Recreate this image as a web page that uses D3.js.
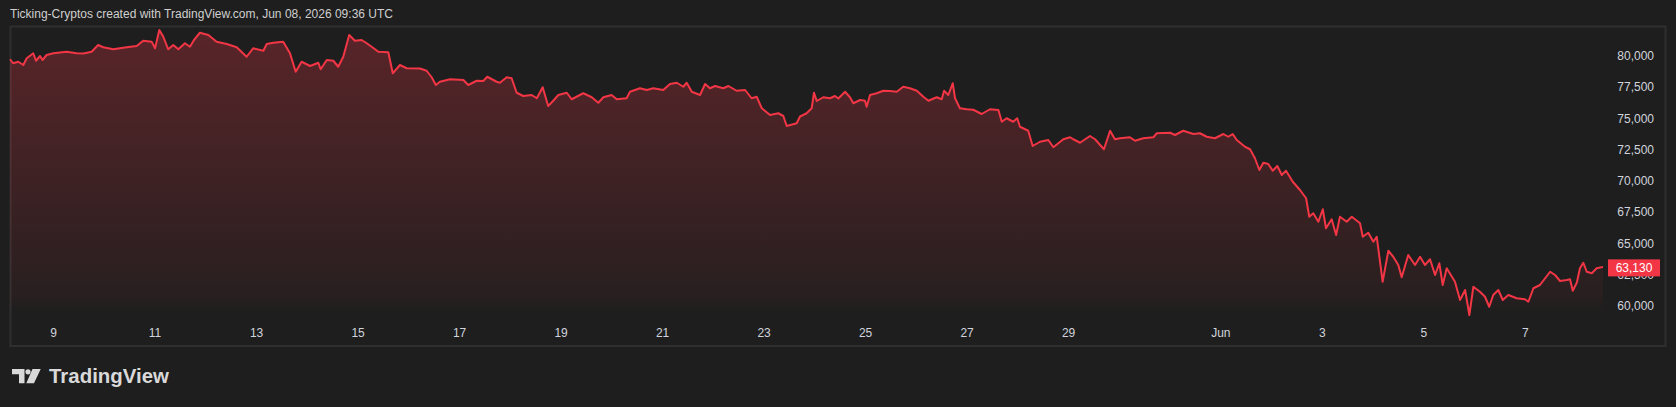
<!DOCTYPE html>
<html>
<head>
<meta charset="utf-8">
<script src="https://cdn.jsdelivr.net/npm/d3@7"></script>
<style>
  html, body { margin: 0; padding: 0; background: #1e1e1e; overflow: hidden; }
</style>
</head>
<body>
<div id="chart"></div>
<script>
const width = 1676, height = 407;

// hours after May 9 00:00 (chart time) and BTC price
const hours = [
  -20.6, -19.1, -16.7, -14.3, -12.7, -9.6, -8.3, -6.4, -5.2, -3.3,
  -0.1, 6.2, 10.9, 14.1, 18.0, 21.1, 23.5, 28.2, 34.6, 39.3,
  42.4, 46.4, 48.0, 50.0, 51.9, 54.2, 56.6, 59.0, 62.1, 64.5,
  66.4, 69.2, 73.2, 77.1, 81.9, 86.6, 91.3, 94.4, 99.2, 100.8,
  103.9, 108.6, 111.8, 114.5, 117.3, 121.3, 125.2, 126.3, 129.2, 132.3,
  134.6, 137.0, 139.8, 142.5, 145.7, 148.1, 150.4, 153.6, 158.3, 160.4,
  163.8, 167.0, 173.3, 176.4, 178.8, 180.8, 182.7, 187.5, 193.8, 196.1,
  200.1, 203.2, 205.1, 209.5, 211.1, 214.3, 216.6, 219.0, 222.1, 226.1,
  228.5, 231.3, 233.9, 236.3, 238.7, 242.7, 245.0, 250.5, 254.5, 257.6,
  260.0, 263.9, 266.3, 271.0, 272.6, 277.3, 280.5, 283.6, 288.3, 291.5,
  294.7, 297.8, 299.4, 301.8, 305.7, 308.1, 310.4, 312.8, 316.7, 319.1,
  323.0, 327.0, 330.1, 332.5, 334.9, 338.8, 342.7, 345.1, 346.7, 351.4,
  353.0, 356.1, 358.5, 359.6, 360.9, 364.0, 367.2, 369.5, 371.1, 374.3,
  376.6, 378.2, 381.4, 383.7, 384.5, 386.1, 389.2, 392.4, 395.5, 398.7,
  401.8, 405.0, 408.2, 411.3, 413.7, 417.6, 420.0, 421.1, 423.1, 425.2,
  426.3, 428.6, 431.8, 434.9, 438.9, 442.8, 446.8, 448.4, 450.7, 453.8,
  455.7, 457.0, 460.9, 463.0, 466.5, 470.4, 472.8, 477.5, 480.7, 482.2,
  485.4, 490.1, 492.5, 496.7, 499.6, 501.9, 504.3, 509.0, 511.4, 515.3,
  520.1, 521.7, 528.0, 530.3, 534.2, 539.0, 542.1, 545.3, 549.2, 553.2,
  555.5, 557.6, 559.5, 563.4, 565.8, 568.1, 570.2, 572.1, 574.4, 576.5,
  578.7, 580.8, 582.8, 586.0, 589.4, 592.3, 593.8, 595.7, 598.1, 600.2,
  601.7, 604.4, 606.5, 608.3, 611.5, 613.9, 617.8, 619.1, 621.7, 624.1,
  625.7, 628.5, 631.2, 633.5, 635.9, 637.5, 640.6, 643.8, 646.2, 648.5,
  650.9, 653.3, 655.3, 656.9, 658.8, 662.7, 665.1, 667.5, 669.5, 671.4,
  674.5, 676.9, 678.9, 680.8, 683.2, 685.3, 687.9, 691.9, 695.8, 697.4,
  699.8, 702.9, 707.7, 710.0, 712.4, 715.6, 717.1, 718.4, 720.3, 721.8,
  723.4, 725.0, 727.4, 729.7, 732.7
];
const prices = [
  79740, 79420, 79540, 79280, 79820, 80220, 79620, 80000, 79680, 80080,
  80220, 80340, 80220, 80200, 80340, 80880, 80700, 80540, 80700, 80800,
  81220, 81140, 80620, 82080, 81540, 80540, 80880, 80540, 81020, 80740,
  81280, 81860, 81680, 81140, 80960, 80700, 79940, 80620, 80420, 80960,
  81060, 81140, 80220, 78740, 79540, 79200, 79460, 78940, 79680, 79620,
  79140, 79940, 81680, 81220, 81280, 81020, 80740, 80340, 80300, 78620,
  79280, 79020, 79000, 78820, 78300, 77680, 77940, 78140, 78080, 77680,
  78020, 78000, 78340, 77940, 77860, 78300, 78220, 77060, 76800, 76880,
  76620, 77500, 76000, 76420, 76880, 77060, 76540, 77020, 76700, 76260,
  76700, 76880, 76540, 76620, 77140, 77420, 77280, 77420, 77280, 77760,
  77860, 77540, 77860, 77140, 76880, 77760, 77420, 77600, 77420, 77600,
  77220, 77280, 76620, 76740, 75820, 75280, 75420, 75200, 74400, 74620,
  75160, 75420, 75820, 77060, 76400, 76700, 76620, 76800, 76600, 77140,
  76700, 76220, 76480, 76420, 75940, 76880, 77020, 77220, 77200, 77140,
  77540, 77420, 77220, 76740, 76420, 76700, 76540, 77220, 76880, 77820,
  76620, 75820, 75740, 75700, 75360, 75740, 75680, 74740, 75020, 74740,
  75020, 74340, 74020, 72800, 73140, 73280, 72700, 73340, 73500, 73340,
  73060, 73600, 73340, 72540, 74020, 73340, 73420, 73500, 73220, 73420,
  73500, 73820, 73860, 73680, 74020, 73760, 73820, 73540, 73420, 73760,
  73540, 73760, 73280, 72740, 72540, 71820, 70880, 71460, 71360, 70820,
  71200, 70480, 70820, 69940, 69280, 68620, 67140, 67420, 66740, 67740,
  66220, 66940, 65680, 67140, 66740, 67140, 66620, 65540, 65860, 65140,
  65540, 61940, 64420, 63940, 63280, 62300, 64080, 63280, 63940, 63280,
  63740, 62480, 63420, 61680, 63020, 61940, 60480, 61280, 59280, 61540,
  61140, 60740, 59940, 60880, 61280, 60480, 60880, 60620, 60540, 60340,
  61420, 61680, 62740, 62480, 62000, 62080, 62140, 61220, 61860, 63020,
  63460, 62740, 62620, 63020, 63130
];

const priceTicks = [60000, 62500, 65000, 67500, 70000, 72500, 75000, 77500, 80000];
const dayTicks = ["2026-05-09", "2026-05-11", "2026-05-13", "2026-05-15", "2026-05-17",
  "2026-05-19", "2026-05-21", "2026-05-23", "2026-05-25", "2026-05-27", "2026-05-29",
  "2026-06-01", "2026-06-03", "2026-06-05", "2026-06-07"];
const dayLabels = ["9", "11", "13", "15", "17", "19", "21", "23", "25", "27", "29", "Jun", "3", "5", "7"];
const titleText = "Ticking-Cryptos created with TradingView.com, Jun 08, 2026 09:36 UTC";

const start = Date.UTC(2026, 4, 9);
const data = hours.map((h, i) => ({ date: new Date(start + h * 3600e3), price: prices[i] }));
const lastPrice = prices[prices.length - 1];

const paneBottom = 312;
const red = "#f23645";
const textColor = "#d1d4dc";

const svg = d3.select("#chart").append("svg")
    .attr("width", width)
    .attr("height", height)
    .style("font-family", "'Liberation Sans', Arial, sans-serif");

svg.append("rect")
    .attr("width", width)
    .attr("height", height)
    .attr("fill", "#1e1e1e");

const x = d3.scaleUtc()
    .domain(d3.extent(data, d => d.date))
    .range([10, 1603]);

const y = d3.scaleLinear()
    .domain([60000, 80000])
    .range([306, 56]);

// title
svg.append("text")
    .attr("x", 10)
    .attr("y", 18)
    .attr("fill", "#cfcfcf")
    .attr("font-size", 12)
    .attr("textLength", 383)
    .attr("lengthAdjust", "spacingAndGlyphs")
    .text(titleText);

// frame
svg.append("rect")
    .attr("x", 10.5)
    .attr("y", 26.5)
    .attr("width", 1655)
    .attr("height", 319.5)
    .attr("fill", "none")
    .attr("stroke", "#2f2f2f")
    .attr("stroke-width", 2);

// area gradient fades out towards the pane bottom
const gTop = y(d3.max(prices));
const grad = svg.append("defs").append("linearGradient")
    .attr("id", "areaGrad")
    .attr("gradientUnits", "userSpaceOnUse")
    .attr("x1", 0).attr("x2", 0)
    .attr("y1", gTop).attr("y2", paneBottom);
grad.append("stop").attr("offset", 0).attr("stop-color", red).attr("stop-opacity", 0.28);
grad.append("stop").attr("offset", (295 - gTop) / (paneBottom - gTop)).attr("stop-color", red).attr("stop-opacity", 0.05);
grad.append("stop").attr("offset", 1).attr("stop-color", red).attr("stop-opacity", 0);

const area = d3.area()
    .x(d => x(d.date))
    .y0(paneBottom)
    .y1(d => y(d.price));

const line = d3.line()
    .x(d => x(d.date))
    .y(d => y(d.price));

svg.append("path")
    .datum(data)
    .attr("d", area)
    .attr("fill", "url(#areaGrad)");

svg.append("path")
    .datum(data)
    .attr("d", line)
    .attr("fill", "none")
    .attr("stroke", red)
    .attr("stroke-width", 2)
    .attr("stroke-linejoin", "round");

// price scale
svg.append("g")
    .selectAll("text")
    .data(priceTicks)
    .join("text")
    .attr("x", 1654)
    .attr("y", d => y(d))
    .attr("dy", "0.35em")
    .attr("text-anchor", "end")
    .attr("fill", textColor)
    .attr("font-size", 12)
    .text(d => d3.format(",")(d));

// last price label (sits over the 62,500 tick, as in TradingView)
const lastY = y(lastPrice) + 1;
svg.append("rect")
    .attr("x", 1608)
    .attr("y", lastY - 8.5)
    .attr("width", 52)
    .attr("height", 17)
    .attr("fill", red);
svg.append("text")
    .attr("x", 1634)
    .attr("y", lastY)
    .attr("dy", "0.35em")
    .attr("text-anchor", "middle")
    .attr("fill", "#ffffff")
    .attr("font-size", 12)
    .text(d3.format(",")(lastPrice));

// time scale
const parseDay = d3.utcParse("%Y-%m-%d");
svg.append("g")
    .selectAll("text")
    .data(dayTicks)
    .join("text")
    .attr("x", d => x(parseDay(d)))
    .attr("y", 333)
    .attr("dy", "0.35em")
    .attr("text-anchor", "middle")
    .attr("fill", textColor)
    .attr("font-size", 12)
    .text((d, i) => dayLabels[i]);

// TradingView logo
const logo = svg.append("g").attr("fill", "#d9d9d9");
logo.append("path")
    .attr("d", "M12,369 H24.5 V383.3 H19 V374.3 H12 Z");
logo.append("circle")
    .attr("cx", 28)
    .attr("cy", 371.8)
    .attr("r", 2.6);
logo.append("path")
    .attr("d", "M32.5,369 H40.7 L34,383.3 H26.3 Z");
logo.append("text")
    .attr("x", 49)
    .attr("y", 383.3)
    .attr("font-size", 20)
    .attr("font-weight", 700)
    .attr("textLength", 120)
    .attr("lengthAdjust", "spacingAndGlyphs")
    .text("TradingView");
</script>
</body>
</html>
